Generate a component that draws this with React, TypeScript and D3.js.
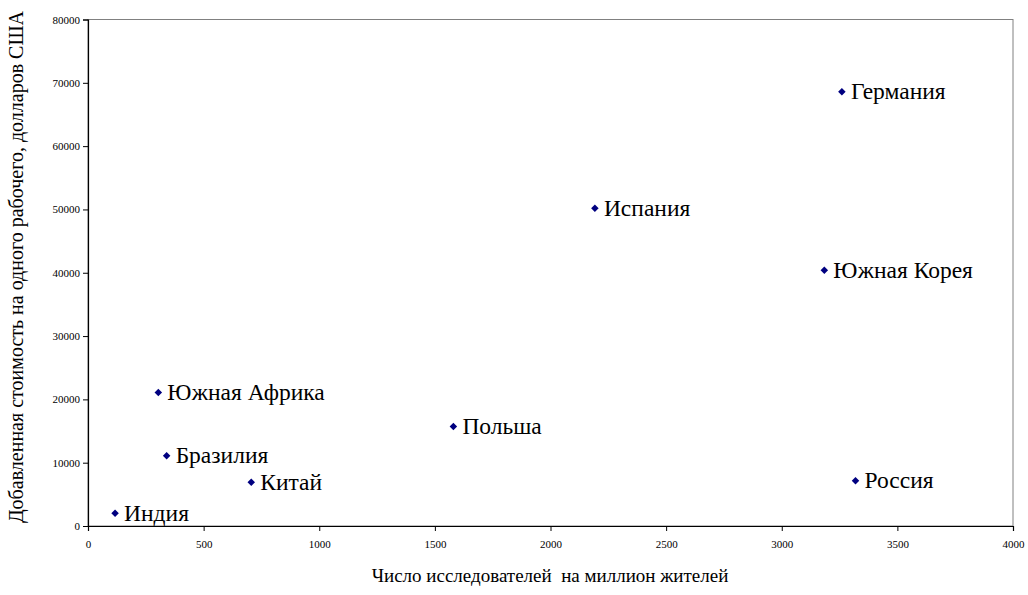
import React, {useEffect, useRef} from "react";
import * as d3 from "d3";

const countries = [
	"Индия",
	"Южная Африка",
	"Бразилия",
	"Китай",
	"Польша",
	"Испания",
	"Южная Корея",
	"Германия",
	"Россия",
];
const researchers = [117, 304, 340, 706, 1580, 2192, 3184, 3260, 3319];
const valueAdded = [2000, 21100, 11100, 6900, 15700, 50200, 40400, 68600, 7150];

const xTicks = [0, 500, 1000, 1500, 2000, 2500, 3000, 3500, 4000];
const yTicks = [0, 10000, 20000, 30000, 40000, 50000, 60000, 70000, 80000];

const xTitle = "Число исследователей  на миллион жителей";
const yTitle = "Добавленная стоимость на одного рабочего, долларов США";

const W = 1028;
const H = 595;
const margin = {left: 88, right: 15, top: 19.5, bottom: 69};

const App: React.FC = () => {
	const svgRef = useRef<SVGSVGElement>(null);

	useEffect(() => {
		const svg = d3.select(svgRef.current);
		svg.selectAll("*").remove();

		const font = "'Liberation Serif', 'Times New Roman', serif";

		const x = d3
			.scaleLinear()
			.domain([0, 4000])
			.range([margin.left, W - margin.right]);
		const y = d3
			.scaleLinear()
			.domain([0, 80000])
			.range([H - margin.bottom, margin.top]);

		// plot border (top/right grey)
		svg
			.append("rect")
			.attr("x", x(0))
			.attr("y", y(80000))
			.attr("width", x(4000) - x(0))
			.attr("height", y(0) - y(80000))
			.attr("fill", "white")
			.attr("stroke", "#808080")
			.attr("stroke-width", 1);

		// Axes
		const xAxis = svg
			.append("g")
			.attr("transform", `translate(0, ${y(0)})`)
			.call(
				d3
					.axisBottom(x)
					.tickValues(xTicks)
					.tickSize(5)
					.tickPadding(9)
					.tickFormat((d) => String(d))
			);
		const yAxis = svg
			.append("g")
			.attr("transform", `translate(${x(0)}, 0)`)
			.call(
				d3
					.axisLeft(y)
					.tickValues(yTicks)
					.tickSize(5)
					.tickPadding(3)
					.tickFormat((d) => String(d))
			);
		[xAxis, yAxis].forEach((a) => {
			a.select(".domain").attr("stroke", "#000").attr("stroke-width", 1.2);
			a.selectAll(".tick line").attr("stroke", "#000");
			a.selectAll(".tick text")
				.style("font-family", font)
				.style("font-size", "11px")
				.attr("fill", "#000");
		});

		// Points
		const pts = svg
			.append("g")
			.selectAll("g")
			.data(countries.map((c, i) => ({c, xv: researchers[i], yv: valueAdded[i]})))
			.enter()
			.append("g")
			.attr("transform", (d) => `translate(${x(d.xv)}, ${y(d.yv)})`);

		pts
			.append("path")
			.attr("d", d3.symbol(d3.symbolDiamond2, 36)() as string)
			.attr("fill", "#000080");

		pts
			.append("text")
			.attr("x", 9)
			.attr("dy", "0.33em")
			.style("font-family", font)
			.style("font-size", "23.5px")
			.attr("fill", "#000")
			.text((d) => d.c);

		// Axis titles
		svg
			.append("text")
			.attr("x", 550)
			.attr("y", 582)
			.attr("text-anchor", "middle")
			.style("font-family", font)
			.style("font-size", "19px")
			.style("white-space", "pre")
			.text(xTitle);

		svg
			.append("text")
			.attr("transform", `translate(23, 267) rotate(-90)`)
			.attr("text-anchor", "middle")
			.style("font-family", font)
			.style("font-size", "20px")
			.text(yTitle);
	}, []);

	return (
		<svg
			ref={svgRef}
			width={W}
			height={H}
			style={{position: "absolute", left: 0, top: 0, background: "white"}}
		/>
	);
};

export default App;
